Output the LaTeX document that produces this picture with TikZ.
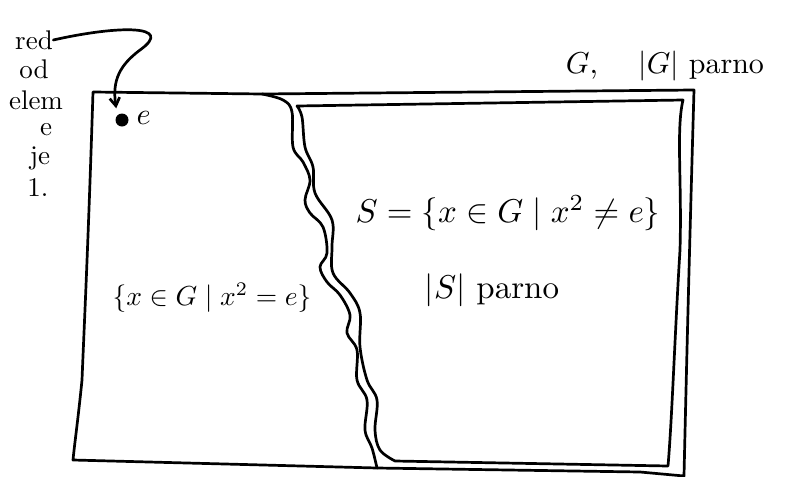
\documentclass[tikz,border=0pt]{standalone}
\usepackage{amssymb}
\usetikzlibrary{arrows.meta}
\tikzset{
  stroke/.style={line width=2.7pt, line cap=round, line join=round},
  note/.style={inner sep=0pt, scale=2.7},
  bigmath/.style={inner sep=0pt, scale=3.3},
  midmath/.style={inner sep=0pt, scale=2.75},
}
\begin{document}
\begin{tikzpicture}[x=1pt,y=-1pt]
\useasboundingbox (0,0) rectangle (812,477);

% outer group G
\draw[stroke] (262,94) -- (93,92) .. controls (88,250) and (84,330) .. (82,380)
  .. controls (78,420) and (75,440) .. (73,460) -- (377,468) -- (640,472) -- (684,476)
  .. controls (688,300) and (692,160) .. (694,90) -- (262,94);

% left boundary of the involution set (wavy)
\draw[stroke] plot[smooth, tension=0.6] coordinates {
  (262,94) (283,100) (292,112) (293,147) (303,162) (310,180) (305,200) (310,213)
  (323,227) (327,253) (320,267) (327,282) (340,295) (350,315) (347,333) (357,350)
  (357,380) (367,400) (365,430) (372,448) (377,468)};

% set S
\draw[stroke] plot[smooth, tension=0.6] coordinates {
  (297,106) (302,117) (305,147) (313,167) (315,193) (332,220) (332,247) (333,273)
  (350,293) (360,313) (360,347) (367,380) (377,400) (375,430) (380,450) (395,461)}
  -- (668,466) .. controls (672,420) and (675,330) .. (680,250)
  .. controls (682,180) and (676,130) .. (683,100) -- (297,106);

% labels
\node[note] (red) at (34,40) {red};
\node[note] (od) at (34,69) {od};
\node[note] (elem) at (36,100) {elem};
\node[note] (e1) at (46,130) {e};
\node[note] (je) at (40,158) {je};
\node[note] (one) at (38,188) {1.};

\node[circle, fill=black, minimum size=13pt, inner sep=0pt] (dot) at (122,120) {};
\node[midmath, scale=1.1, anchor=west] (elab) at (136,118) {$e$};

\draw[stroke, -{Straight Barb[length=8pt,width=10pt]}, shorten >=7pt]
  (red.east) .. controls (120,25) and (175,25) .. (140,50)
  .. controls (120,65) and (112,80) .. (dot.north west);

\node[midmath, scale=1.1] (G) at (582,66) {$G$,};
\node[inner sep=0pt, scale=3.0, anchor=west] (Gpar) at (638,66) {$|G|$ parno};

\node[bigmath] (Sdef) at (508,213) {$S=\{x\in G \mid x^2\neq e\}$};
\node[bigmath] (Spar) at (492,290) {$|S|$ parno};
\node[midmath] (inv) at (212,298) {$\{x\in G \mid x^2=e\}$};
\end{tikzpicture}
\end{document}
